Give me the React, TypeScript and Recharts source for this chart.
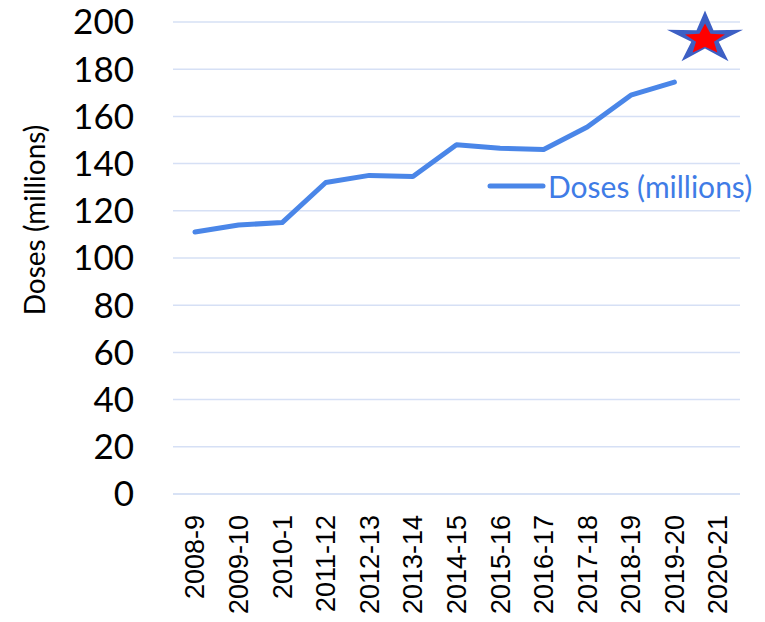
import React from 'react';
import { ComposedChart, Line, Scatter, XAxis, YAxis, CartesianGrid } from 'recharts';

const years = ['2008-9', '2009-10', '2010-1', '2011-12', '2012-13', '2013-14', '2014-15', '2015-16', '2016-17', '2017-18', '2018-19', '2019-20', '2020-21'];
const doses = [111, 114, 115, 132, 135, 134.5, 148, 146.5, 146, 155.5, 169, 174.5, null];
const target = [null, null, null, null, null, null, null, null, null, null, null, null, 193];
const yTicks = [0, 20, 40, 60, 80, 100, 120, 140, 160, 180, 200];

const data = years.map((year, i) => ({ year, doses: doses[i], target: target[i] }));

const LINE_BLUE = '#4a86e8';
const GRID_BLUE = '#d6e0f5';

const starPoints = (cx: number, cy: number, rx: number, ry: number, inner: number) => {
    const pts: string[] = [];
    for (let i = 0; i < 10; i++) {
        const a = -Math.PI / 2 + (i * Math.PI) / 5;
        const k = i % 2 === 0 ? 1 : inner;
        pts.push(`${cx + Math.cos(a) * rx * k},${cy + Math.sin(a) * ry * k}`);
    }
    return pts.join(' ');
};

const Star = (props: any) => {
    const { cx, cy } = props;
    if (cx == null || cy == null) return null;
    const x = cx - 13;
    return (
        <g>
            <polygon points={starPoints(x, cy, 40, 28, 0.36)} fill="#3d5fc4" />
            <polygon points={starPoints(x, cy + 1, 21, 16, 0.45)} fill="#ff0000" />
        </g>
    );
};

const XTick = (props: any) => {
    const { x, y, payload } = props;
    return (
        <g transform={`translate(${x},${y})`}>
            <text transform="rotate(-90)" textAnchor="end" dy="0.35em" fontSize={27} fontFamily="Liberation Sans, Arial" fill="#000">
                {payload.value}
            </text>
        </g>
    );
};

export default function App() {
    return (
        <div style={{ position: 'absolute', left: 0, top: 0, width: 765, height: 622, background: '#fff' }}>
            <ComposedChart width={765} height={622} data={data} margin={{ top: 22, right: 25, bottom: 0, left: 0 }}>
                <CartesianGrid vertical={false} stroke={GRID_BLUE} strokeWidth={1.5} />
                <XAxis
                    dataKey="year"
                    height={128}
                    padding={{ left: 22, right: 22 }}
                    axisLine={{ stroke: GRID_BLUE, strokeWidth: 1.5 }}
                    tickLine={false}
                    tickSize={0}
                    tickMargin={21}
                    interval={0}
                    tick={<XTick />}
                />
                <YAxis
                    width={173}
                    domain={[0, 200]}
                    ticks={yTicks}
                    axisLine={false}
                    tickLine={false}
                    tickSize={0}
                    tickMargin={39}
                    tick={{ fontSize: 35, fontFamily: 'Lato', fill: '#000' }}
                    label={{
                        content: (p: any) => {
                            const vb = p.viewBox;
                            const cy = vb.y + vb.height / 2 - 38;
                            return (
                                <text x={34} y={cy} transform={`rotate(-90, 34, ${cy})`} textAnchor="middle" dominantBaseline="central" fontSize={28} fontFamily="Lato" fill="#000">
                                    Doses (millions)
                                </text>
                            );
                        },
                    }}
                />
                <Line type="linear" dataKey="doses" stroke={LINE_BLUE} strokeWidth={5} dot={false} strokeLinejoin="round" strokeLinecap="round" isAnimationActive={false} />
                <Scatter dataKey="target" shape={<Star />} legendType="none" isAnimationActive={false} />
            </ComposedChart>
            <div style={{ position: 'absolute', left: 486, top: 168, display: 'flex', alignItems: 'center' }}>
                <svg width={62} height={10}>
                    <line x1={4} y1={5} x2={57} y2={5} stroke={LINE_BLUE} strokeWidth={5} strokeLinecap="round" />
                </svg>
                <span style={{ color: '#3f7ce6', fontFamily: 'Lato', fontSize: 30, lineHeight: '36px' }}>Doses (millions)</span>
            </div>
        </div>
    );
}
